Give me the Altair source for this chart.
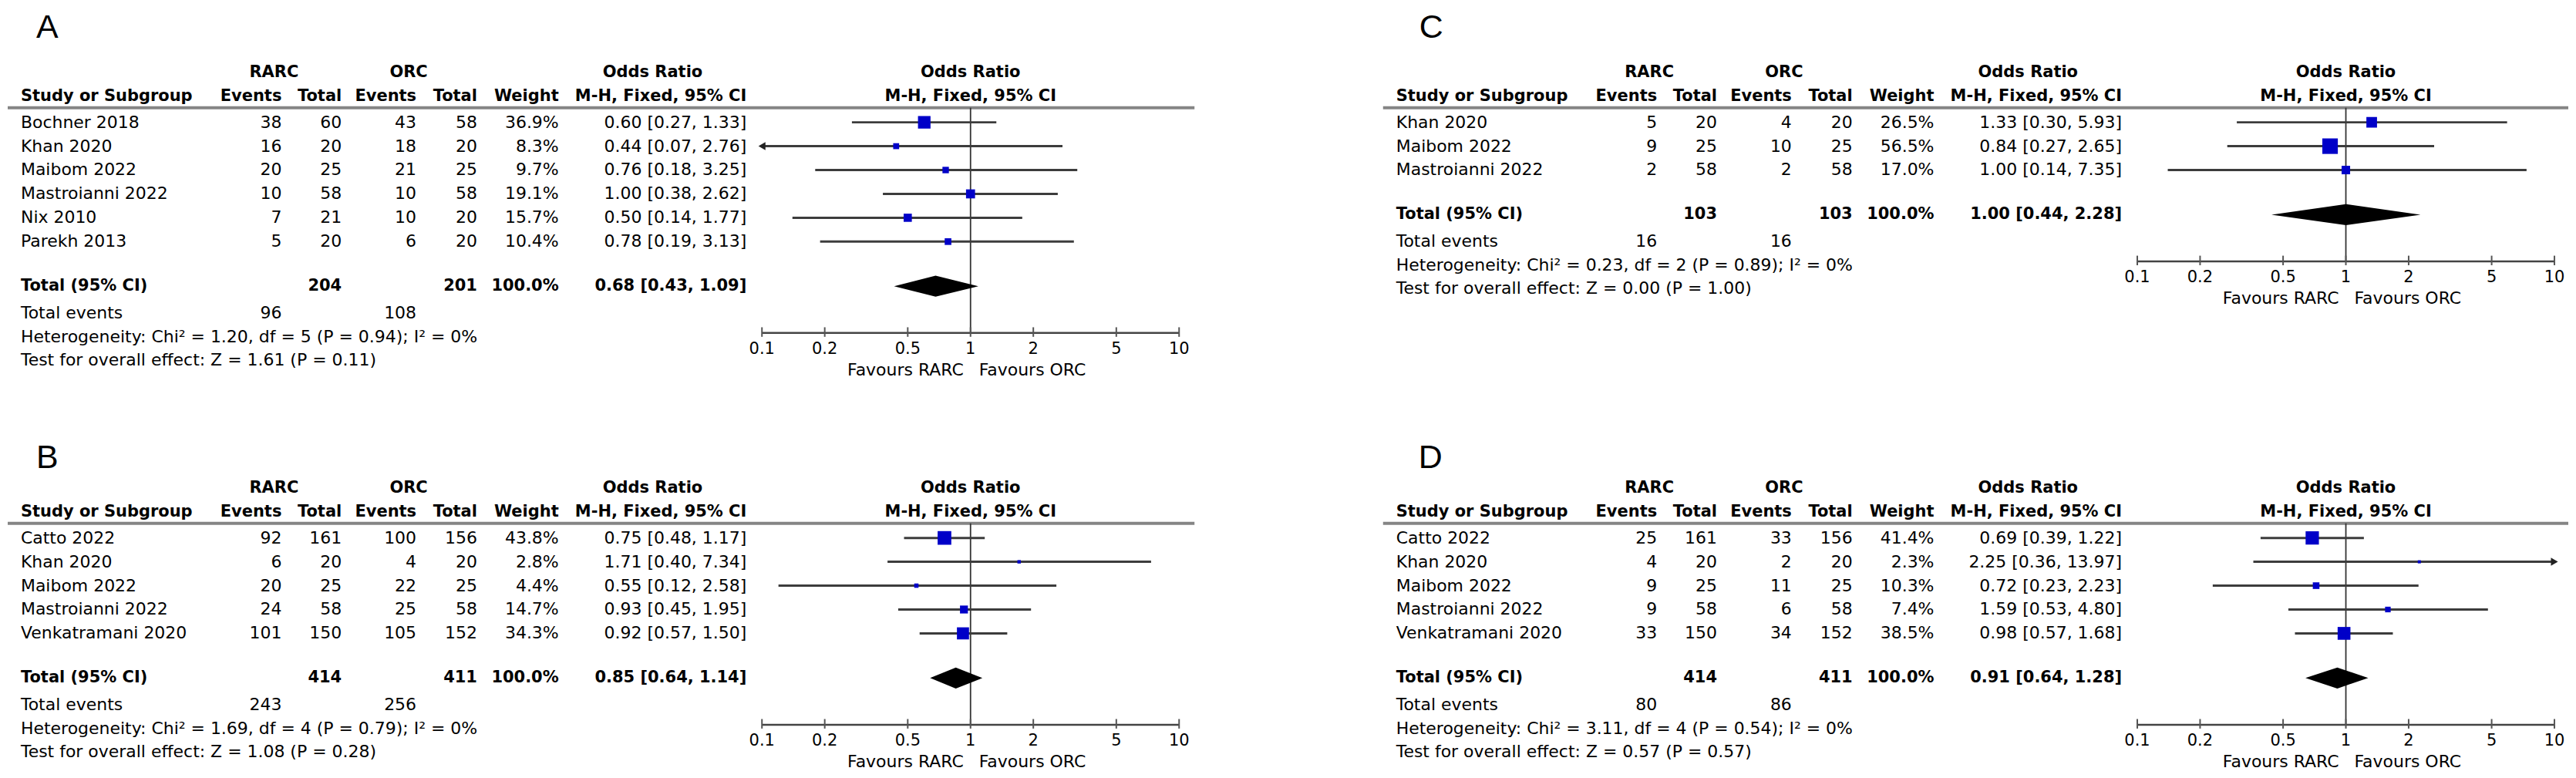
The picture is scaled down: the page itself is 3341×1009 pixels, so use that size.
import altair as alt
import pandas as pd

FONT = "DejaVu Sans"
FS = 22       # normal text
FSB = 21      # bold text
FST = 21      # tick labels

# ---------------- data ----------------
A_study = ["Bochner 2018", "Khan 2020", "Maibom 2022", "Mastroianni 2022", "Nix 2010", "Parekh 2013"]
A_re = [38, 16, 20, 10, 7, 5]
A_rt = [60, 20, 25, 58, 21, 20]
A_oe = [43, 18, 21, 10, 10, 6]
A_ot = [58, 20, 25, 58, 20, 20]
A_wt = [36.9, 8.3, 9.7, 19.1, 15.7, 10.4]
A_or = [0.60, 0.44, 0.76, 1.00, 0.50, 0.78]
A_lo = [0.27, 0.07, 0.18, 0.38, 0.14, 0.19]
A_hi = [1.33, 2.76, 3.25, 2.62, 1.77, 3.13]
A_tot = [204, 201, 0.68, 0.43, 1.09]
A_tev = [96, 108]
A_het = "Heterogeneity: Chi² = 1.20, df = 5 (P = 0.94); I² = 0%"
A_test = "Test for overall effect: Z = 1.61 (P = 0.11)"

B_study = ["Catto 2022", "Khan 2020", "Maibom 2022", "Mastroianni 2022", "Venkatramani 2020"]
B_re = [92, 6, 20, 24, 101]
B_rt = [161, 20, 25, 58, 150]
B_oe = [100, 4, 22, 25, 105]
B_ot = [156, 20, 25, 58, 152]
B_wt = [43.8, 2.8, 4.4, 14.7, 34.3]
B_or = [0.75, 1.71, 0.55, 0.93, 0.92]
B_lo = [0.48, 0.40, 0.12, 0.45, 0.57]
B_hi = [1.17, 7.34, 2.58, 1.95, 1.50]
B_tot = [414, 411, 0.85, 0.64, 1.14]
B_tev = [243, 256]
B_het = "Heterogeneity: Chi² = 1.69, df = 4 (P = 0.79); I² = 0%"
B_test = "Test for overall effect: Z = 1.08 (P = 0.28)"

C_study = ["Khan 2020", "Maibom 2022", "Mastroianni 2022"]
C_re = [5, 9, 2]
C_rt = [20, 25, 58]
C_oe = [4, 10, 2]
C_ot = [20, 25, 58]
C_wt = [26.5, 56.5, 17.0]
C_or = [1.33, 0.84, 1.00]
C_lo = [0.30, 0.27, 0.14]
C_hi = [5.93, 2.65, 7.35]
C_tot = [103, 103, 1.00, 0.44, 2.28]
C_tev = [16, 16]
C_het = "Heterogeneity: Chi² = 0.23, df = 2 (P = 0.89); I² = 0%"
C_test = "Test for overall effect: Z = 0.00 (P = 1.00)"

D_study = ["Catto 2022", "Khan 2020", "Maibom 2022", "Mastroianni 2022", "Venkatramani 2020"]
D_re = [25, 4, 9, 9, 33]
D_rt = [161, 20, 25, 58, 150]
D_oe = [33, 2, 11, 6, 34]
D_ot = [156, 20, 25, 58, 152]
D_wt = [41.4, 2.3, 10.3, 7.4, 38.5]
D_or = [0.69, 2.25, 0.72, 1.59, 0.98]
D_lo = [0.39, 0.36, 0.23, 0.53, 0.57]
D_hi = [1.22, 13.97, 2.23, 4.80, 1.68]
D_tot = [414, 411, 0.91, 0.64, 1.28]
D_tev = [80, 86]
D_het = "Heterogeneity: Chi² = 3.11, df = 4 (P = 0.54); I² = 0%"
D_test = "Test for overall effect: Z = 0.57 (P = 0.57)"

TICKS = [0.1, 0.2, 0.5, 1, 2, 5, 10]
TICK_LABELS = ["0.1", "0.2", "0.5", "1", "2", "5", "10"]
GROUP_HEAD = ["RARC", "ORC", "Odds Ratio"]
COL_HEAD = ["Study or Subgroup", "Events", "Total", "Events", "Total", "Weight", "M-H, Fixed, 95% CI"]
PLOT_HEAD = ["Odds Ratio", "M-H, Fixed, 95% CI"]
FAVOURS = ["Favours RARC", "Favours ORC"]
TOTAL_LABEL = "Total (95% CI)"
EVENTS_LABEL = "Total events"

# ---------------- layout (panel-local pixels) ----------------
X_STUDY, X_RE, X_RT, X_OE, X_OT, X_WT, X_CI = 17, 356, 434, 531, 610, 716, 960
X_RARC, X_ORC, X_ORH = 346, 521, 838
ROW0, ROWH = 150, 31          # first study row and row pitch (px)
X01, DEC = 980, 271           # pixel of OR=0.1 and pixels per decade
HLINE = -0.61                 # header rule (in rows)
BOX_BLUE = "#0000c8"
LINE = "#3c3c3c"


def fmt_ci(o, l, h):
    return f"{o:.2f} [{l:.2f}, {h:.2f}]"


def panel(letter, lx, ly, study, re, rt, oe, ot, wt, orr, lo, hi, tot, tev, het, test,
          width, height, hl_end):
    n = len(study)
    ys = alt.Scale(domain=[-ROW0 / ROWH, (height - ROW0) / ROWH], reverse=True,
                   zero=False, nice=False)
    xs = alt.Scale(type="log",
                   domain=[10 ** (-1 - X01 / DEC), 10 ** (-1 + (width - X01) / DEC)],
                   nice=False)

    def Y(f):
        return alt.Y(f"{f}:Q", scale=ys, axis=None)

    def X(f):
        return alt.X(f"{f}:Q", scale=xs, axis=None)

    def txt(df, field, x, align, bold=False, yf="row"):
        return alt.Chart(df).mark_text(
            align=align, baseline="middle", font=FONT, fontSize=FSB if bold else FS,
            fontWeight="bold" if bold else "normal", color="black"
        ).encode(x=alt.value(x), y=Y(yf), text=f"{field}:N")

    layers = []
    # panel letter
    layers.append(alt.Chart(pd.DataFrame({"t": [letter]})).mark_text(
        align="left", baseline="alphabetic", font="Liberation Sans", fontSize=43, color="black"
    ).encode(x=alt.value(lx), y=alt.value(ly), text="t:N"))

    # headers
    gh = pd.DataFrame({"l": GROUP_HEAD, "row": [-2.1] * 3})
    layers.append(txt(gh.iloc[[0]], "l", X_RARC, "center", True))
    layers.append(txt(gh.iloc[[1]], "l", X_ORC, "center", True))
    layers.append(txt(gh.iloc[[2]], "l", X_ORH, "center", True))
    ch = pd.DataFrame({"l": COL_HEAD, "row": [-1.1] * len(COL_HEAD)})
    for i, (x, a) in enumerate([(X_STUDY, "left"), (X_RE, "right"), (X_RT, "right"),
                                (X_OE, "right"), (X_OT, "right"), (X_WT, "right"),
                                (X_CI, "right")]):
        layers.append(txt(ch.iloc[[i]], "l", x, a, True))
    ph = pd.DataFrame({"x": [1, 1], "row": [-2.1, -1.1], "l": PLOT_HEAD})
    layers.append(alt.Chart(ph).mark_text(
        align="center", baseline="middle", font=FONT, fontSize=FSB, fontWeight="bold", color="black"
    ).encode(x=X("x"), y=Y("row"), text="l:N"))

    # header line
    layers.append(alt.Chart(pd.DataFrame({"y": [HLINE]})).mark_rule(
        color="#858585", strokeWidth=4
    ).encode(x=alt.value(0), x2=alt.value(hl_end), y=Y("y")))

    # study rows
    rows = pd.DataFrame({
        "study": study,
        "re": [str(v) for v in re], "rt": [str(v) for v in rt],
        "oe": [str(v) for v in oe], "ot": [str(v) for v in ot],
        "wt": [f"{v:.1f}%" for v in wt],
        "ci": [fmt_ci(o, l, h) for o, l, h in zip(orr, lo, hi)],
        "or": orr, "lo": lo, "hi": hi, "w": wt,
        "row": list(range(n)),
    })
    rows["lo_c"] = rows["lo"].clip(lower=0.1)
    rows["hi_c"] = rows["hi"].clip(upper=10)
    layers.append(txt(rows, "study", X_STUDY, "left"))
    for f, x in [("re", X_RE), ("rt", X_RT), ("oe", X_OE), ("ot", X_OT), ("wt", X_WT), ("ci", X_CI)]:
        layers.append(txt(rows, f, x, "right"))

    # total row
    trow = n + 0.87
    tdf = pd.DataFrame({"l": [TOTAL_LABEL], "a": [str(tot[0])], "b": [str(tot[1])],
                        "w": ["100.0%"], "ci": [fmt_ci(tot[2], tot[3], tot[4])], "row": [trow]})
    layers.append(txt(tdf, "l", X_STUDY, "left", True))
    layers.append(txt(tdf, "a", X_RT, "right", True))
    layers.append(txt(tdf, "b", X_OT, "right", True))
    layers.append(txt(tdf, "w", X_WT, "right", True))
    layers.append(txt(tdf, "ci", X_CI, "right", True))

    # total events & footers
    edf = pd.DataFrame({"l": [EVENTS_LABEL], "a": [str(tev[0])], "b": [str(tev[1])], "row": [n + 2.0]})
    layers.append(txt(edf, "l", X_STUDY, "left"))
    layers.append(txt(edf, "a", X_RE, "right"))
    layers.append(txt(edf, "b", X_OE, "right"))
    fdf = pd.DataFrame({"l": [het, test], "row": [n + 3.0, n + 3.97]})
    layers.append(txt(fdf, "l", X_STUDY, "left"))

    axis_y = n + 2.83
    # vertical line of no effect
    layers.append(alt.Chart(pd.DataFrame({"x": [1], "y": [HLINE], "y2": [axis_y]})).mark_rule(
        color="#333333", strokeWidth=1.8
    ).encode(x=X("x"), y=Y("y"), y2="y2:Q"))

    # CI lines
    layers.append(alt.Chart(rows).mark_rule(color=LINE, strokeWidth=3).encode(
        x=X("lo_c"), x2="hi_c:Q", y=Y("row")))

    # arrows for clipped CIs
    arr = []
    for _, r in rows.iterrows():
        if r["lo"] < 0.1:
            arr.append({"x": 0.1, "row": r["row"], "d": "left"})
        if r["hi"] > 10:
            arr.append({"x": 10, "row": r["row"], "d": "right"})
    if arr:
        layers.append(alt.Chart(pd.DataFrame(arr)).mark_point(
            filled=True, opacity=1, color="#222222", size=110
        ).encode(x=X("x"), y=Y("row"),
                 shape=alt.Shape("d:N", scale=alt.Scale(domain=["left", "right"],
                                                         range=["triangle-left", "triangle-right"]),
                                 legend=None)))

    # weight boxes
    layers.append(alt.Chart(rows).mark_square(filled=True, opacity=1, color=BOX_BLUE).encode(
        x=X("or"), y=Y("row"),
        size=alt.Size("w:Q", scale=alt.Scale(domain=[0, 100], range=[0, 720]), legend=None)))

    # diamond
    h = 0.44
    dia = pd.DataFrame({"x": [tot[3], tot[2], tot[4]],
                        "y1": [trow, trow - h, trow], "y2": [trow, trow + h, trow]})
    layers.append(alt.Chart(dia).mark_area(color="black", opacity=1).encode(
        x=X("x"), y=Y("y1"), y2="y2:Q"))

    # axis
    layers.append(alt.Chart(pd.DataFrame({"a": [0.1], "b": [10], "y": [axis_y]})).mark_rule(
        color="#444444", strokeWidth=2.5).encode(x=X("a"), x2="b:Q", y=Y("y")))
    tk = pd.DataFrame({"t": TICKS, "lab": TICK_LABELS, "y1": [axis_y - 0.24] * 7,
                       "y2": [axis_y + 0.16] * 7, "yl": [n + 3.52] * 7})
    layers.append(alt.Chart(tk).mark_rule(color="#555555", strokeWidth=2).encode(
        x=X("t"), y=Y("y1"), y2="y2:Q"))
    layers.append(alt.Chart(tk).mark_text(
        align="center", baseline="middle", font=FONT, fontSize=FST, color="black"
    ).encode(x=X("t"), y=Y("yl"), text="lab:N"))

    fav = pd.DataFrame({"x": [1, 1], "row": [n + 4.37] * 2, "l": FAVOURS})
    layers.append(alt.Chart(fav.iloc[[0]]).mark_text(
        align="right", baseline="middle", font=FONT, fontSize=FS, color="black", dx=-9
    ).encode(x=X("x"), y=Y("row"), text="l:N"))
    layers.append(alt.Chart(fav.iloc[[1]]).mark_text(
        align="left", baseline="middle", font=FONT, fontSize=FS, color="black", dx=11
    ).encode(x=X("x"), y=Y("row"), text="l:N"))

    return alt.layer(*layers).properties(width=width, height=height)


pA = panel("A", 37, 40, A_study, A_re, A_rt, A_oe, A_ot, A_wt, A_or, A_lo, A_hi,
           A_tot, A_tev, A_het, A_test, 1767, 520, 1542)
pC = panel("C", 47, 40, C_study, C_re, C_rt, C_oe, C_ot, C_wt, C_or, C_lo, C_hi,
           C_tot, C_tev, C_het, C_test, 1540, 520, 1540)
pB = panel("B", 37, 59, B_study, B_re, B_rt, B_oe, B_ot, B_wt, B_or, B_lo, B_hi,
           B_tot, B_tev, B_het, B_test, 1767, 450, 1542)
pD = panel("D", 46, 59, D_study, D_re, D_rt, D_oe, D_ot, D_wt, D_or, D_lo, D_hi,
           D_tot, D_tev, D_het, D_test, 1540, 450, 1540)

chart = alt.concat(pA, pC, pB, pD, columns=2, spacing=20, bounds="flush").properties(
    padding=0, background="white"
).configure_view(stroke=None)

chart.save("out.html", embed_options={"renderer": "svg", "actions": False})
